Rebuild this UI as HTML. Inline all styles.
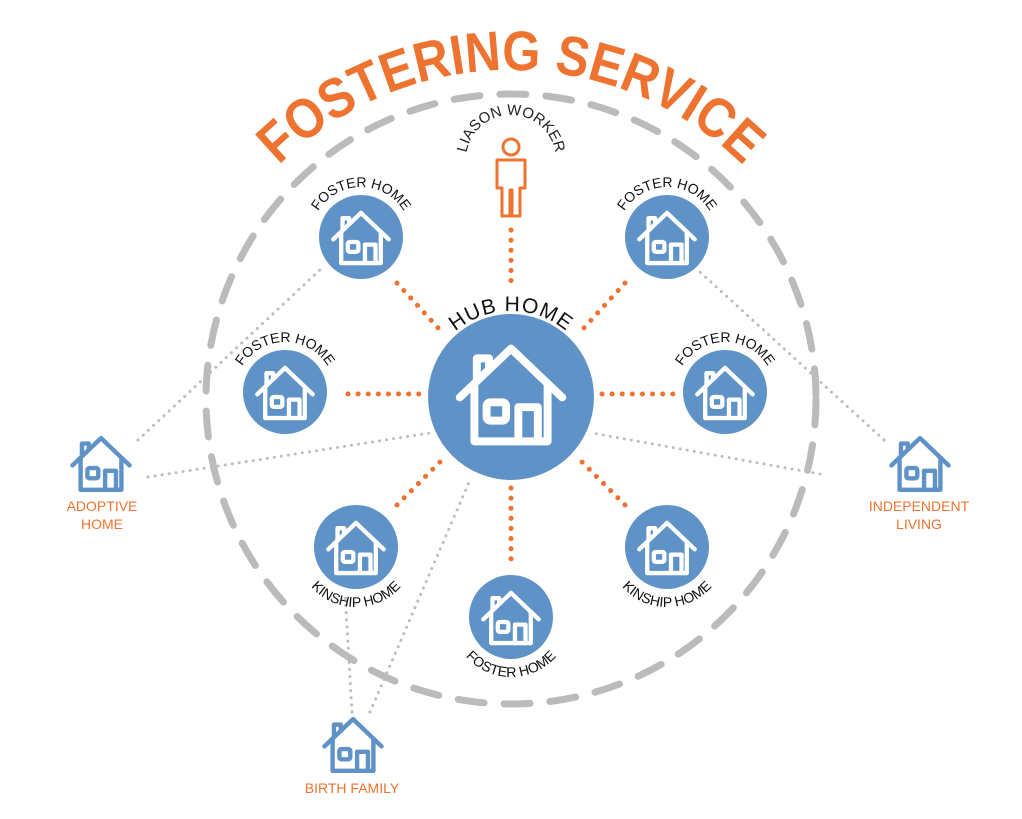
<!DOCTYPE html>
<html><head><meta charset="utf-8"><style>
html,body{margin:0;padding:0;background:#fff;width:1022px;height:819px;overflow:hidden}
svg text{font-family:"Liberation Sans",sans-serif}
</style></head><body>
<svg width="1022" height="819" viewBox="0 0 1022 819" xmlns="http://www.w3.org/2000/svg">
<defs>
<symbol id="h" viewBox="0 0 100 100">
<g fill="none" stroke-width="6.5" stroke-linecap="round" stroke-linejoin="round">
<polyline points="8,52 50,12 92,52"/>
<polyline points="20,42 20,88 80,88 80,42"/>
<polyline points="22,38 22,20 32,20 32,29"/>
<rect x="30" y="56" width="16" height="15" rx="3"/>
<polyline points="56,88 56,60 72,60 72,88"/>
</g>
</symbol>
<path id="tarc" d="M 181 400 A 330 330 0 0 1 841 400"/>
<path id="larc" d="M 466 160 A 45 45 0 0 1 556 160"/>
<path id="hubarc" d="M 425 397 A 86 86 0 0 1 597 397"/>
</defs>
<circle cx="511" cy="399" r="305" fill="none" stroke="#b9bbbd" stroke-width="7" stroke-dasharray="26 20" stroke-linecap="round"/>
<g stroke="#bdbdbd" stroke-width="3" stroke-dasharray="0.1 7" stroke-linecap="round" fill="none">
<line x1="138" y1="440" x2="322" y2="268"/>
<line x1="148" y1="477" x2="430" y2="433"/>
<line x1="884" y1="440" x2="700" y2="272"/>
<line x1="820" y1="474" x2="592" y2="433"/>
<line x1="352" y1="712" x2="345" y2="592"/>
<line x1="370" y1="712" x2="470" y2="480"/>
</g>
<g stroke="#ee7330" stroke-width="5" stroke-dasharray="0.1 10" stroke-linecap="round" fill="none">
<line x1="511" y1="230" x2="511" y2="290"/>
<line x1="397" y1="283" x2="440" y2="330"/>
<line x1="625" y1="283" x2="582" y2="330"/>
<line x1="348" y1="394" x2="420" y2="394"/>
<line x1="602" y1="394" x2="675" y2="394"/>
<line x1="397" y1="505" x2="440" y2="462"/>
<line x1="625" y1="505" x2="582" y2="462"/>
<line x1="511" y1="488" x2="511" y2="565"/>
</g>
<g fill="#5f93c7">
<circle cx="511" cy="397" r="83"/>
<circle cx="361" cy="237" r="42"/>
<circle cx="667" cy="237" r="42"/>
<circle cx="285" cy="392" r="42"/>
<circle cx="725" cy="392" r="42"/>
<circle cx="356" cy="547" r="42"/>
<circle cx="667" cy="547" r="42"/>
<circle cx="511" cy="617" r="42"/>
</g>
<g stroke="#fff">
<use href="#h" x="450" y="334" width="122" height="122"/>
<use href="#h" x="328" y="205" width="66" height="66"/>
<use href="#h" x="634" y="205" width="66" height="66"/>
<use href="#h" x="252" y="360" width="66" height="66"/>
<use href="#h" x="692" y="360" width="66" height="66"/>
<use href="#h" x="323" y="515" width="66" height="66"/>
<use href="#h" x="634" y="515" width="66" height="66"/>
<use href="#h" x="478" y="585" width="66" height="66"/>
</g>
<g stroke="#5f93c7">
<use href="#h" x="67" y="430" width="68" height="68"/>
<use href="#h" x="886" y="430" width="68" height="68"/>
<use href="#h" x="319" y="711" width="68" height="68"/>
</g>
<text font-size="56" font-weight="bold" fill="#ee7330"><textPath href="#tarc" startOffset="50%" text-anchor="middle" textLength="515" lengthAdjust="spacingAndGlyphs">FOSTERING SERVICE</textPath></text>
<text font-size="15" fill="#222"><textPath href="#larc" startOffset="50%" text-anchor="middle">LIASON WORKER</textPath></text>
<g fill="none" stroke="#ee7330" stroke-width="3" stroke-linejoin="round">
<circle cx="511" cy="147" r="8"/>
<path d="M497 160 H525 V188 H520 V216 H512 V190 H510 V216 H502 V188 H497 Z"/>
</g>
<text font-size="21" fill="#111" letter-spacing="1"><textPath href="#hubarc" startOffset="50%" text-anchor="middle">HUB HOME</textPath></text>
<g font-size="14" fill="#111" text-anchor="middle">
<path id="a1" d="M 311 237 A 50 50 0 0 1 411 237" fill="none"/>
<text><textPath href="#a1" startOffset="50%">FOSTER HOME</textPath></text>
<path id="a2" d="M 617 237 A 50 50 0 0 1 717 237" fill="none"/>
<text><textPath href="#a2" startOffset="50%">FOSTER HOME</textPath></text>
<path id="a3" d="M 235 392 A 50 50 0 0 1 335 392" fill="none"/>
<text><textPath href="#a3" startOffset="50%">FOSTER HOME</textPath></text>
<path id="a4" d="M 675 392 A 50 50 0 0 1 775 392" fill="none"/>
<text><textPath href="#a4" startOffset="50%">FOSTER HOME</textPath></text>
<path id="a5" d="M 296 547 A 60 60 0 0 0 416 547" fill="none"/>
<text><textPath href="#a5" startOffset="50%">KINSHIP HOME</textPath></text>
<path id="a6" d="M 607 547 A 60 60 0 0 0 727 547" fill="none"/>
<text><textPath href="#a6" startOffset="50%">KINSHIP HOME</textPath></text>
<path id="a7" d="M 451 617 A 60 60 0 0 0 571 617" fill="none"/>
<text><textPath href="#a7" startOffset="50%">FOSTER HOME</textPath></text>
</g>
<g font-size="14" fill="#ee7330" text-anchor="middle">
<text x="102" y="511">ADOPTIVE</text>
<text x="102" y="529">HOME</text>
<text x="919" y="511">INDEPENDENT</text>
<text x="919" y="529">LIVING</text>
<text x="352" y="793">BIRTH FAMILY</text>
</g>
</svg>
</body></html>
